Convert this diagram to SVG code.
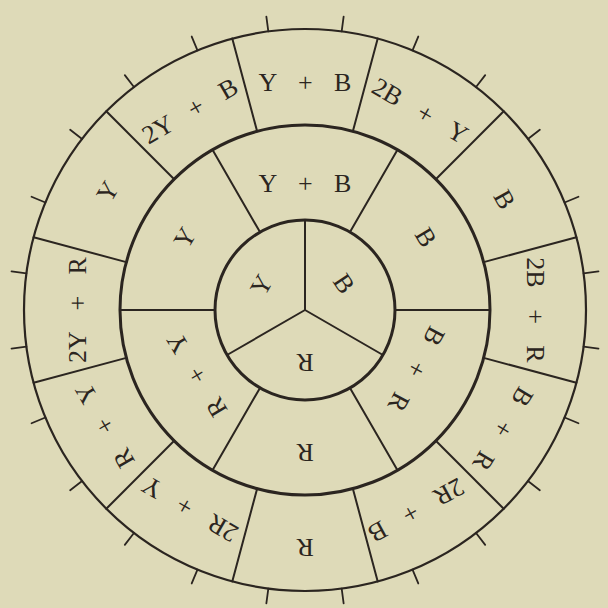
<svg xmlns="http://www.w3.org/2000/svg" width="608" height="608" viewBox="0 0 608 608">
<style>
.ln{stroke:#2b2520;fill:none;stroke-linecap:round}
.c1{stroke-width:2.2}
.c2{stroke-width:3}
.dv{stroke-width:2}
.tk{stroke-width:1.8}
text{font-family:"Liberation Serif","DejaVu Serif",serif;font-size:26px;fill:#2b2520;text-anchor:middle;dominant-baseline:central;word-spacing:15px}
</style>
<rect width="608" height="608" fill="#dedab8"/>
<g transform="translate(305 310)">
 <g id="connectors" class="ln">
  <circle class="c1" r="281"/>
  <circle class="c2" r="185"/>
  <circle class="c2" r="90"/>
  <g class="dv">
   <line x1="0" y1="0" x2="0" y2="-90"/>
   <line x1="0" y1="0" x2="0" y2="-90" transform="rotate(120)"/>
   <line x1="0" y1="0" x2="0" y2="-90" transform="rotate(240)"/>
   <line x1="0" y1="-90" x2="0" y2="-185" transform="rotate(30)"/>
   <line x1="0" y1="-90" x2="0" y2="-185" transform="rotate(90)"/>
   <line x1="0" y1="-90" x2="0" y2="-185" transform="rotate(150)"/>
   <line x1="0" y1="-90" x2="0" y2="-185" transform="rotate(210)"/>
   <line x1="0" y1="-90" x2="0" y2="-185" transform="rotate(270)"/>
   <line x1="0" y1="-90" x2="0" y2="-185" transform="rotate(330)"/>
   <line x1="0" y1="-185" x2="0" y2="-281" transform="rotate(15)"/>
   <line x1="0" y1="-185" x2="0" y2="-281" transform="rotate(45)"/>
   <line x1="0" y1="-185" x2="0" y2="-281" transform="rotate(75)"/>
   <line x1="0" y1="-185" x2="0" y2="-281" transform="rotate(105)"/>
   <line x1="0" y1="-185" x2="0" y2="-281" transform="rotate(135)"/>
   <line x1="0" y1="-185" x2="0" y2="-281" transform="rotate(165)"/>
   <line x1="0" y1="-185" x2="0" y2="-281" transform="rotate(195)"/>
   <line x1="0" y1="-185" x2="0" y2="-281" transform="rotate(225)"/>
   <line x1="0" y1="-185" x2="0" y2="-281" transform="rotate(255)"/>
   <line x1="0" y1="-185" x2="0" y2="-281" transform="rotate(285)"/>
   <line x1="0" y1="-185" x2="0" y2="-281" transform="rotate(315)"/>
   <line x1="0" y1="-185" x2="0" y2="-281" transform="rotate(345)"/>
  </g>
  <g class="tk">
   <line x1="0" y1="-281" x2="0" y2="-296" transform="rotate(7.5)"/>
   <line x1="0" y1="-281" x2="0" y2="-296" transform="rotate(22.5)"/>
   <line x1="0" y1="-281" x2="0" y2="-296" transform="rotate(37.5)"/>
   <line x1="0" y1="-281" x2="0" y2="-296" transform="rotate(52.5)"/>
   <line x1="0" y1="-281" x2="0" y2="-296" transform="rotate(67.5)"/>
   <line x1="0" y1="-281" x2="0" y2="-296" transform="rotate(82.5)"/>
   <line x1="0" y1="-281" x2="0" y2="-296" transform="rotate(97.5)"/>
   <line x1="0" y1="-281" x2="0" y2="-296" transform="rotate(112.5)"/>
   <line x1="0" y1="-281" x2="0" y2="-296" transform="rotate(127.5)"/>
   <line x1="0" y1="-281" x2="0" y2="-296" transform="rotate(142.5)"/>
   <line x1="0" y1="-281" x2="0" y2="-296" transform="rotate(157.5)"/>
   <line x1="0" y1="-281" x2="0" y2="-296" transform="rotate(172.5)"/>
   <line x1="0" y1="-281" x2="0" y2="-296" transform="rotate(187.5)"/>
   <line x1="0" y1="-281" x2="0" y2="-296" transform="rotate(202.5)"/>
   <line x1="0" y1="-281" x2="0" y2="-296" transform="rotate(217.5)"/>
   <line x1="0" y1="-281" x2="0" y2="-296" transform="rotate(232.5)"/>
   <line x1="0" y1="-281" x2="0" y2="-296" transform="rotate(247.5)"/>
   <line x1="0" y1="-281" x2="0" y2="-296" transform="rotate(262.5)"/>
   <line x1="0" y1="-281" x2="0" y2="-296" transform="rotate(277.5)"/>
   <line x1="0" y1="-281" x2="0" y2="-296" transform="rotate(292.5)"/>
   <line x1="0" y1="-281" x2="0" y2="-296" transform="rotate(307.5)"/>
   <line x1="0" y1="-281" x2="0" y2="-296" transform="rotate(322.5)"/>
   <line x1="0" y1="-281" x2="0" y2="-296" transform="rotate(337.5)"/>
   <line x1="0" y1="-281" x2="0" y2="-296" transform="rotate(352.5)"/>
  </g>
 </g>
 <g id="inner-Y"><text transform="rotate(-60) translate(0 -50)">Y</text></g>
 <g id="inner-B"><text transform="rotate(56) translate(0 -47)">B</text></g>
 <g id="inner-R"><text transform="rotate(180) translate(0 -52)">R</text></g>
 <g id="mid-YB"><text transform="rotate(0) translate(0 -127)">Y + B</text></g>
 <g id="mid-B"><text transform="rotate(59) translate(0 -141)">B</text></g>
 <g id="mid-BR"><text transform="rotate(118) translate(0 -126)">B + R</text></g>
 <g id="mid-R"><text transform="rotate(180) translate(0 -142)">R</text></g>
 <g id="mid-RY"><text transform="rotate(239) translate(0 -126)">R + Y</text></g>
 <g id="mid-Y"><text transform="rotate(301) translate(0 -140)">Y</text></g>
 <g id="out-YB"><text transform="rotate(0) translate(0 -228)">Y + B</text></g>
 <g id="out-2BY"><text transform="rotate(30) translate(0 -230)">2B + Y</text></g>
 <g id="out-B"><text transform="rotate(61) translate(0 -228)">B</text></g>
 <g id="out-2BR"><text transform="rotate(90) translate(0 -230)">2B + R</text></g>
 <g id="out-BR"><text transform="rotate(121) translate(0 -231)">B + R</text></g>
 <g id="out-2RB"><text transform="rotate(151) translate(0 -229)">2R + B</text></g>
 <g id="out-R"><text transform="rotate(180) translate(0 -237)">R</text></g>
 <g id="out-2RY"><text transform="rotate(210) translate(0 -230)">2R + Y</text></g>
 <g id="out-RY"><text transform="rotate(240) translate(0 -231)">R + Y</text></g>
 <g id="out-2YR"><text transform="rotate(270) translate(0 -228)">2Y + R</text></g>
 <g id="out-Y"><text transform="rotate(301) translate(0 -230)">Y</text></g>
 <g id="out-2YB"><text transform="rotate(330) translate(0 -230)">2Y + B</text></g>
</g>
</svg>
